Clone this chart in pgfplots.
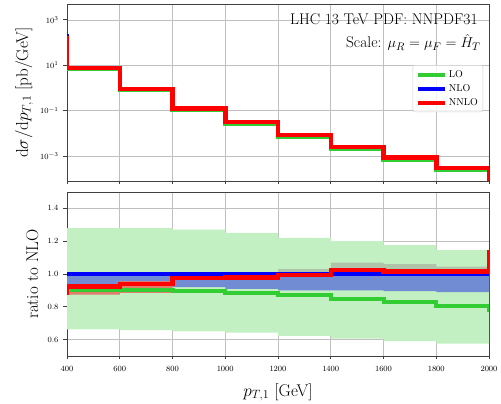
\documentclass[border=0pt]{standalone}
\usepackage{pgfplots}
\pgfplotsset{compat=1.18}

\definecolor{lo}{RGB}{50,205,50}
\definecolor{loband}{RGB}{194,240,194}
\definecolor{nloband}{RGB}{114,140,212}
\definecolor{nnloband}{RGB}{224,126,108}
\definecolor{greyband}{RGB}{176,196,170}

\pgfplotsset{
  panel/.style={
    scale only axis, width=422pt, anchor=south west,
    xmin=400, xmax=2000, xtick={400,600,...,2000},
    axis line style={draw=black!75, line width=0.9pt},
    grid=major, grid style={black!25, line width=0.7pt},
    tick align=outside, tick pos=left,
    major tick length=3.5pt,
    every tick/.style={black!75, line width=0.8pt},
    tick label style={font=\fontsize{8.5}{10}\selectfont},
    xticklabel shift=3pt, yticklabel shift=1.5pt,
    label style={font=\fontsize{17}{20}\selectfont},
    /pgf/number format/1000 sep={},
    clip=true,
  },
  stepline/.style={const plot, line width=4.5pt, line join=miter, mark=none},
}

\begin{document}
\begin{tikzpicture}
\useasboundingbox (0pt,0pt) rectangle (501pt,404pt);

% upper panel: cross section
\begin{axis}[panel, at={(67pt,223pt)}, height=177pt,
    ymode=log, ymin=7.94e-5, ymax=5012,
    ytick={1e-3,1e-1,1e1,1e3}, xticklabels={},
    ylabel={$\mathrm{d}\sigma/\mathrm{d}p_{T,1}$ [pb/GeV]},
    ylabel style={at={(axis description cs:-0.0924,0.5)}, anchor=base},
    legend style={at={(rel axis cs:0.986,0.655)}, anchor=north east,
      draw=black!20, rounded corners=2pt, fill=white, fill opacity=0.8,
      text opacity=1, font=\fontsize{10}{12}\selectfont,
      row sep=1.5pt, inner sep=3pt},
    legend cell align=left,
    legend image code/.code={\draw[line width=4pt] (0pt,0pt) -- (27pt,0pt);},
  ]
  \addplot[stepline, lo] coordinates {
    (400,180) (400,7.0) (600,0.84) (800,0.115) (1000,0.0278)
    (1200,0.0073) (1400,0.0021) (1600,0.0007) (1800,0.00024)
    (2000,0.00024) (2000,1e-6)};
  \addlegendentry{LO}
  \addplot[stepline, blue] coordinates {
    (400,230) (400,7.6) (600,0.9) (800,0.127) (1000,0.031)
    (1200,0.0083) (1400,0.0025) (1600,0.00085) (1800,0.0003)
    (2000,0.0003) (2000,1e-6)};
  \addlegendentry{NLO}
  \addplot[stepline, red] coordinates {
    (400,200) (400,7.4) (600,0.89) (800,0.126) (1000,0.031)
    (1200,0.0083) (1400,0.0025) (1600,0.00085) (1800,0.0003)
    (2000,0.0003) (2000,1e-6)};
  \addlegendentry{NNLO}
  \node[anchor=base east, font=\fontsize{15.5}{18}\selectfont, inner sep=1pt]
    at (rel axis cs:0.976,0.885) {LHC 13 TeV PDF: NNPDF31};
  \node[anchor=base east, font=\fontsize{15.5}{18}\selectfont, inner sep=1pt]
    at (rel axis cs:0.983,0.752) {Scale: $\mu_R=\mu_F=\hat{H}_T$};
\end{axis}

% lower panel: ratio to NLO
\begin{axis}[panel, at={(67pt,48pt)}, height=164pt,
    ymin=0.5, ymax=1.5, ytick={0.6,0.8,...,1.4},
    yticklabel style={/pgf/number format/.cd, fixed, fixed zerofill, precision=1},
    ylabel={ratio to NLO},
    ylabel style={at={(axis description cs:-0.0687,0.5)}, anchor=base},
    xlabel={$p_{T,1}$ [GeV]},
    xlabel style={at={(axis description cs:0.5,-0.244)}, anchor=base},
  ]
  % LO scale band
  \addplot[fill=loband, draw=none] coordinates {
    (400,1.28) (600,1.28) (600,1.28) (800,1.28) (800,1.27) (1000,1.27)
    (1000,1.25) (1200,1.25) (1200,1.22) (1400,1.22) (1400,1.20) (1600,1.20)
    (1600,1.176) (1800,1.176) (1800,1.146) (2000,1.146)
    (2000,0.576) (1800,0.576) (1800,0.59) (1600,0.59) (1600,0.606) (1400,0.606)
    (1400,0.622) (1200,0.622) (1200,0.643) (1000,0.643) (1000,0.65) (800,0.65)
    (800,0.657) (600,0.657) (600,0.663) (400,0.663)} -- cycle;
  % NNLO scale band
  \addplot[fill=nnloband, draw=none] coordinates {
    (400,0.95) (600,0.95) (600,0.96) (800,0.96)
    (800,0.885) (600,0.885) (600,0.874) (400,0.874)} -- cycle;
  \addplot[fill=greyband, draw=none] coordinates {
    (1200,1.03) (1400,1.03) (1400,1.07) (1600,1.07) (1600,1.06) (1800,1.06)
    (1800,1.045) (2000,1.045) (2000,1.0) (1200,1.0)} -- cycle;
  % NLO scale band
  \addplot[fill=nloband, draw=none] coordinates {
    (400,1.0) (2000,1.0)
    (2000,0.89) (1800,0.89) (1800,0.896) (1600,0.896) (1600,0.90) (1400,0.90)
    (1400,0.90) (1200,0.90) (1200,0.91) (1000,0.91) (1000,0.92) (800,0.92)
    (800,0.956) (600,0.956) (600,0.94) (400,0.94)} -- cycle;
  \addplot[stepline, line width=4pt, lo] coordinates {
    (400,0.90) (600,0.905) (800,0.896) (1000,0.884) (1200,0.87)
    (1400,0.846) (1600,0.83) (1800,0.804) (2000,0.804) (2000,0.77)};
  \addplot[stepline, blue] coordinates {(400,1.0) (2000,1.0)};
  \addplot[stepline, red] coordinates {
    (400,0.87) (400,0.924) (600,0.94) (800,0.976) (1000,0.98)
    (1200,0.994) (1400,1.024) (1600,1.014) (1800,1.016)
    (2000,1.016) (2000,1.146)};
\end{axis}
\end{tikzpicture}
\end{document}
